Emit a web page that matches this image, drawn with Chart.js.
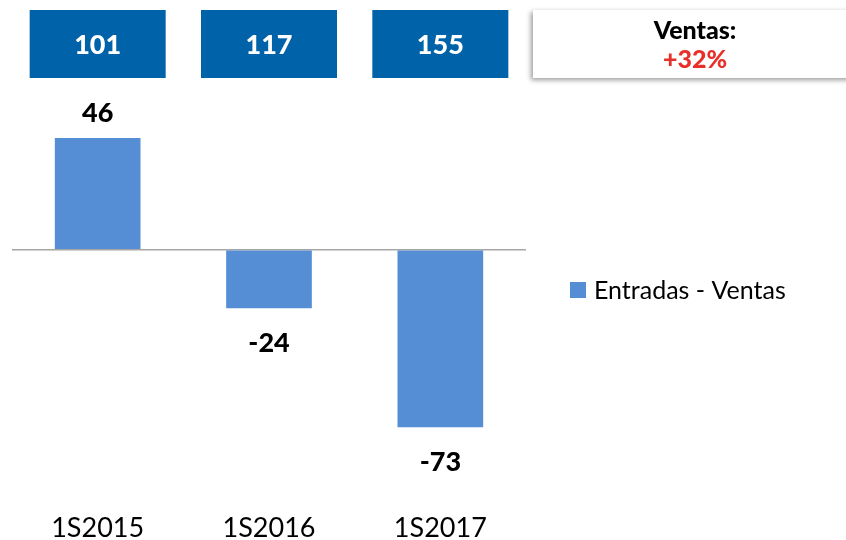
<!DOCTYPE html>
<html>
<head>
<meta charset="utf-8">
<script src="https://cdn.jsdelivr.net/npm/chart.js@4"></script>
<style>
  html, body { margin: 0; padding: 0; background: #fff; }
  #wrap { position: relative; width: 846px; height: 540px; }
</style>
</head>
<body>
<div id="wrap"><canvas id="c" width="846" height="540"></canvas></div>
<script>
const categories = ['1S2015', '1S2016', '1S2017'];
const seriesName = 'Entradas - Ventas';
const entradasMenosVentas = [46, -24, -73];
const ventasTotales = [101, 117, 155];
const ventasTitle = 'Ventas:';
const ventasChange = '+32%';

const FONT = 'Lato, "Open Sans", sans-serif';
const BAR_COLOR = '#558ED5';
const BOX_COLOR = '#0062A8';

const overlayPlugin = {
  id: 'overlay',
  afterDatasetsDraw(chart) {
    const ctx = chart.ctx;
    const meta = chart.getDatasetMeta(0);
    const xs = chart.scales.x;
    const area = chart.chartArea;
    ctx.save();
    // value labels
    ctx.font = '900 27px ' + FONT;
    ctx.fillStyle = '#000';
    ctx.textAlign = 'center';
    ctx.textBaseline = 'middle';
    meta.data.forEach((bar, i) => {
      const v = entradasMenosVentas[i];
      const y = v >= 0 ? bar.y - 25 : bar.y + 35;
      ctx.fillText(String(v), bar.x, y);
    });
    // top boxes with sales
    ventasTotales.forEach((v, i) => {
      const cx = xs.getPixelForValue(i);
      const w = 136, top = 10, h = 68;
      ctx.fillStyle = BOX_COLOR;
      ctx.fillRect(cx - w / 2, top, w, h);
      ctx.fillStyle = '#fff';
      ctx.font = '900 27px ' + FONT;
      ctx.fillText(String(v), cx, top + h / 2 + 1);
    });
    // Ventas summary box
    const bx = 533, by = 10, bw = 320, bh = 68;
    ctx.save();
    ctx.shadowColor = 'rgba(0,0,0,0.4)';
    ctx.shadowBlur = 5;
    ctx.shadowOffsetX = -2;
    ctx.shadowOffsetY = 2;
    ctx.fillStyle = '#fff';
    ctx.fillRect(bx, by, bw, bh);
    ctx.restore();
    ctx.fillStyle = '#000';
    ctx.font = '900 25px ' + FONT;
    ctx.fillText(ventasTitle, 695, 31);
    ctx.fillStyle = '#E8302A';
    ctx.fillText(ventasChange, 695, 60);
    // legend
    const lx = area.right + 44, ly = 290;
    ctx.fillStyle = BAR_COLOR;
    ctx.fillRect(lx, ly - 8, 16, 16);
    ctx.fillStyle = '#000';
    ctx.font = '25px ' + FONT;
    ctx.textAlign = 'left';
    ctx.fillText(seriesName, lx + 24, ly + 1);
    ctx.restore();
  }
};

new Chart(document.getElementById('c'), {
  type: 'bar',
  data: {
    labels: categories,
    datasets: [{
      label: seriesName,
      data: entradasMenosVentas,
      backgroundColor: BAR_COLOR,
      borderWidth: 0,
      barPercentage: 0.5,
      categoryPercentage: 1.0
    }]
  },
  options: {
    responsive: false,
    animation: false,
    devicePixelRatio: 1,
    layout: { padding: { left: 12, right: 320, top: 104, bottom: 0 } },
    scales: {
      x: {
        grid: { display: false, drawTicks: false },
        border: { display: false },
        ticks: { color: '#000', font: { family: FONT, size: 27, lineHeight: 1 }, padding: 27, maxRotation: 0 },
        afterFit(scale) { scale.height = 52; }
      },
      y: {
        min: -98,
        max: 60,
        border: { display: false },
        grid: {
          drawTicks: false,
          color: (c) => (c.tick && c.tick.value === 0 ? '#A6A6A6' : 'rgba(0,0,0,0)'),
          lineWidth: 1.5
        },
        ticks: { display: false, stepSize: 2 },
        afterFit(scale) { scale.width = 0; }
      }
    },
    plugins: {
      legend: { display: false },
      tooltip: { enabled: false }
    }
  },
  plugins: [overlayPlugin]
});
</script>
</body>
</html>
